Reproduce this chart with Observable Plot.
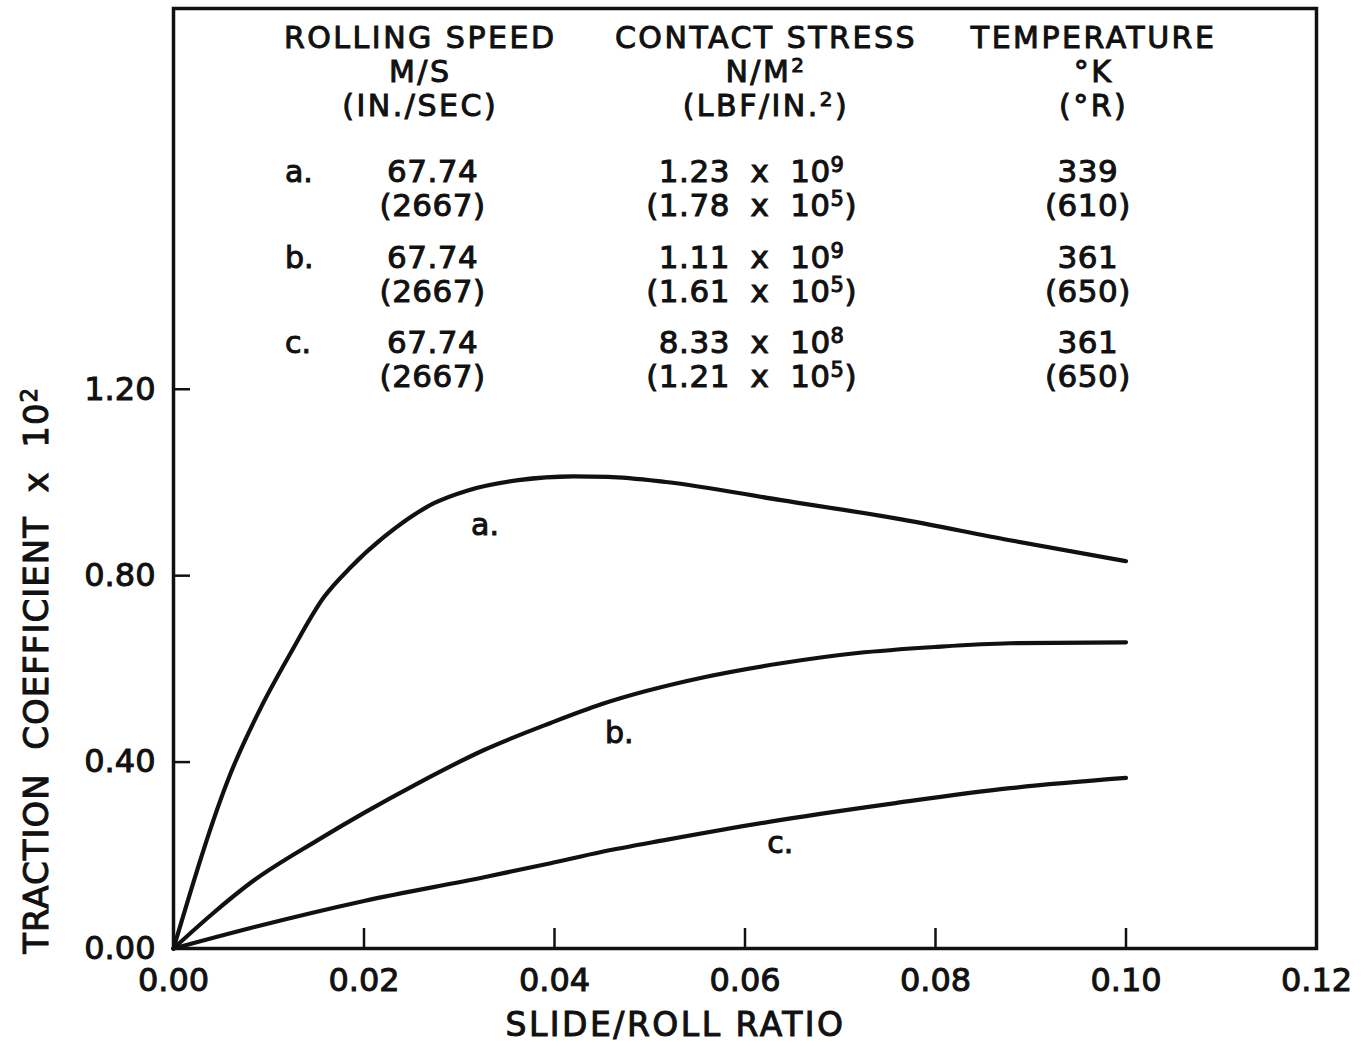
<!DOCTYPE html>
<html>
<head>
<meta charset="utf-8">
<script src="https://cdn.jsdelivr.net/npm/d3@7"></script>
<script src="https://cdn.jsdelivr.net/npm/@observablehq/plot@0.6"></script>
<style>
  body { margin: 0; background: #fff; }
  #chart svg text { stroke: #111; stroke-width: 1px; }
</style>
</head>
<body>
<div id="chart"></div>
<script>
// ---- Data ----
const curveA_x = [0, 0.0060, 0.0092, 0.0123, 0.0158, 0.0186, 0.0221, 0.0274, 0.0309, 0.0362, 0.0420, 0.0456, 0.0517, 0.0638, 0.0758, 0.0878, 0.1000];
const curveA_y = [0, 0.376, 0.518, 0.634, 0.754, 0.818, 0.883, 0.956, 0.983, 1.005, 1.013, 1.012, 1.001, 0.962, 0.923, 0.876, 0.831];

const curveB_x = [0, 0.0040, 0.0081, 0.0151, 0.0200, 0.0257, 0.0326, 0.0396, 0.0449, 0.0557, 0.0638, 0.0718, 0.0799, 0.0878, 0.1000];
const curveB_y = [0, 0.073, 0.141, 0.232, 0.291, 0.355, 0.426, 0.484, 0.524, 0.582, 0.612, 0.634, 0.647, 0.655, 0.657];

const curveC_x = [0, 0.0081, 0.0200, 0.0326, 0.0396, 0.0449, 0.0517, 0.0638, 0.0758, 0.0878, 0.1000];
const curveC_y = [0, 0.044, 0.102, 0.153, 0.183, 0.207, 0.233, 0.276, 0.312, 0.344, 0.366];

const seriesNames = ["a.", "b.", "c."];
const curveLabelX = [0.0327, 0.0468, 0.0637];
const curveLabelY = [0.907, 0.462, 0.226];

const xTicks = [0, 0.02, 0.04, 0.06, 0.08, 0.10, 0.12];
const yTicks = [0, 0.40, 0.80, 1.20];

const xLabel = "SLIDE/ROLL RATIO";
const yLabel = "TRACTION COEFFICIENT x 10²";

const headerRolling = ["ROLLING SPEED", "M/S", "(IN./SEC)"];
const headerStress = ["CONTACT STRESS", "N/M²", "(LBF/IN.²)"];
const headerTemp = ["TEMPERATURE", "°K", "(°R)"];
const rollingSI = ["67.74", "67.74", "67.74"];
const rollingUS = ["(2667)", "(2667)", "(2667)"];
const stressSI = ["1.23 x 10⁹", "1.11 x 10⁹", "8.33 x 10⁸"];
const stressUS = ["(1.78 x 10⁵)", "(1.61 x 10⁵)", "(1.21 x 10⁵)"];
const tempSI = ["339", "361", "361"];
const tempUS = ["(610)", "(650)", "(650)"];

// ---- Build tables for the library ----
const wide = (s) => s.replace(/ /g, "\u00A0\u00A0");
const curves = [
  ...curveA_x.map((x, i) => ({series: "a", x, y: curveA_y[i]})),
  ...curveB_x.map((x, i) => ({series: "b", x, y: curveB_y[i]})),
  ...curveC_x.map((x, i) => ({series: "c", x, y: curveC_y[i]}))
];
const curveLabels = seriesNames.map((t, i) => ({text: t, x: curveLabelX[i], y: curveLabelY[i]}));

// table layout (in data units of the chart's scales)
const headerRowY = [1.953, 1.880, 1.807];
const caseRowY = [[1.665, 1.593], [1.481, 1.408], [1.299, 1.226]];
const headerColX = [0.0259, 0.0622, 0.0966];
const valueColX = [0.0272, 0.0607, 0.0960];
const letterColX = 0.0117;

const headerCells = [];
[headerRolling, headerStress, headerTemp].forEach((col, c) =>
  col.forEach((t, r) => headerCells.push({text: t, x: headerColX[c], y: headerRowY[r]})));
const valueCells = [];
[[rollingSI, rollingUS], [stressSI, stressUS], [tempSI, tempUS]].forEach(([si, us], c) => {
  si.forEach((t, r) => valueCells.push({text: wide(t), x: valueColX[c], y: caseRowY[r][0]}));
  us.forEach((t, r) => valueCells.push({text: wide(t), x: valueColX[c], y: caseRowY[r][1]}));
});
const letterCells = seriesNames.map((t, r) => ({text: t, x: letterColX, y: caseRowY[r][0]}));

const fmt = d3.format(".2f");

const chart = Plot.plot({
  width: 1366,
  height: 1046,
  marginTop: 8,
  marginRight: 50,
  marginBottom: 98,
  marginLeft: 173,
  style: {fontFamily: "DejaVu Sans", fontSize: "32px", color: "#111", background: "#fff"},
  x: {domain: [0, 0.12]},
  y: {domain: [0, 2.017]},
  marks: [
    Plot.axisX(xTicks, {tickSize: -20, tickFormat: () => "", strokeWidth: 2.5, label: null}),
    Plot.axisX(xTicks, {tickSize: 0, tickPadding: 20, tickFormat: fmt, fontSize: 32, label: null}),
    Plot.axisY(yTicks, {tickSize: -17, tickFormat: () => "", strokeWidth: 2.5, label: null}),
    Plot.axisY(yTicks, {tickSize: 0, tickPadding: 18, tickFormat: fmt, fontSize: 32, label: null}),
    Plot.line(curves, {x: "x", y: "y", z: "series", curve: "monotone-x", stroke: "#111", strokeWidth: 4.2}),
    Plot.frame({stroke: "#111", strokeWidth: 3.5}),
    Plot.text(curveLabels, {x: "x", y: "y", text: "text", fontSize: 30, fill: "#111"}),
    Plot.text(headerCells, {x: "x", y: "y", text: "text", fontSize: 30, fill: "#111"}),
    Plot.text(valueCells, {x: "x", y: "y", text: "text", fontSize: 31, fill: "#111"}),
    Plot.text(letterCells, {x: "x", y: "y", text: "text", fontSize: 30, textAnchor: "start", fill: "#111"}),
    Plot.text([wide(yLabel)], {x: -0.01428, y: 0.597, rotate: -90, fontSize: 34, fill: "#111"}),
    Plot.text([xLabel], {x: 0.0527, y: -0.166, fontSize: 33, fill: "#111"})
  ]
});
document.getElementById("chart").appendChild(chart);

// Letter spacing like the stencil lettering of the original
const headerSet = new Set([...headerRolling, ...headerStress, ...headerTemp]);
const valueSet = new Set(valueCells.map(d => d.text));
d3.select(chart).selectAll("text").each(function () {
  const s = this.textContent;
  if (headerSet.has(s)) this.style.letterSpacing = "2.5px";
  else if (s === xLabel) this.style.letterSpacing = "2.5px";
  else if (s === wide(yLabel)) this.style.letterSpacing = "1px";
  else if (valueSet.has(s)) this.style.letterSpacing = "0.5px";
});

// Render Unicode superscripts as raised digits (as in the lettering of the original)
const supMap = {"²": "2", "⁵": "5", "⁸": "8", "⁹": "9"};
d3.select(chart).selectAll("text").each(function () {
  const node = this;
  const s = node.textContent;
  if (!/[²⁵⁸⁹]/.test(s)) return;
  const fs = parseFloat(getComputedStyle(node).fontSize) || 30;
  const raise = Math.round(fs * 0.32);
  const sel = d3.select(node);
  sel.text(null);
  let buf = "", raised = false;
  const flush = () => { if (buf) { sel.append("tspan").text(buf); buf = ""; } };
  for (const ch of s) {
    if (supMap[ch]) {
      flush();
      sel.append("tspan").attr("dy", -raise).attr("font-size", Math.round(fs * 0.68)).text(supMap[ch]);
      raised = true;
    } else if (raised) {
      sel.append("tspan").attr("dy", raise).text(ch);
      raised = false;
    } else buf += ch;
  }
  flush();
});
</script>
</body>
</html>
